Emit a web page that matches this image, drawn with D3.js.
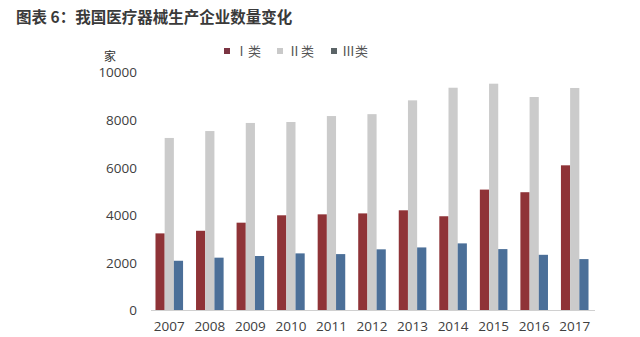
<!DOCTYPE html>
<html lang="zh">
<head>
  <meta charset="UTF-8">
  <title>我国医疗器械生产企业数量变化</title>
  <style>
    body { margin: 0; background: #fff; }
    svg { display: block; font-family: "Noto Sans CJK SC", "Noto Sans", sans-serif; }
    .tick text { fill: #404040; }
  </style>
  <script src="https://d3js.org/d3.v7.min.js"></script>
</head>
<body>
  <div id="chart"></div>
  <script>
    // ---- data ----
    const years = ["2007", "2008", "2009", "2010", "2011", "2012", "2013", "2014", "2015", "2016", "2017"];
    const seriesNames = ["Ⅰ类", "Ⅱ类", "Ⅲ类"];
    const class1 = [3240, 3350, 3690, 4000, 4040, 4080, 4210, 3960, 5080, 4970, 6100];
    const class2 = [7250, 7540, 7880, 7920, 8170, 8250, 8830, 9360, 9530, 8970, 9350];
    const class3 = [2090, 2220, 2290, 2400, 2370, 2570, 2650, 2820, 2580, 2340, 2160];
    const yTicks = [0, 2000, 4000, 6000, 8000, 10000];

    const colors = ["#8f3337", "#cbcbcb", "#4b6f98"];
    const legendColors = ["#7b3442", "#c9c9c9", "#5b6467"];

    const width = 640, height = 337;
    const svg = d3.select("#chart").append("svg")
      .attr("width", width)
      .attr("height", height);

    // title
    svg.append("text")
      .attr("x", 16)
      .attr("y", 23)
      .attr("font-size", 15.5)
      .attr("font-weight", "bold")
      .attr("fill", "#3a3a3a")
      .text("图表 6：我国医疗器械生产企业数量变化");

    // scales
    const x0 = d3.scaleBand()
      .domain(years)
      .range([149, 595])
      .paddingInner(0.32)
      .paddingOuter(0.16);

    const x1 = d3.scaleBand()
      .domain(seriesNames)
      .range([0, x0.bandwidth()]);

    const y = d3.scaleLinear()
      .domain([0, 10000])
      .range([310.5, 72.5]);

    const table = years.map((yr, i) => ({
      year: yr,
      values: [class1[i], class2[i], class3[i]]
    }));

    // bars
    const groups = svg.append("g").selectAll("g")
      .data(table)
      .join("g")
      .attr("transform", d => `translate(${x0(d.year)},0)`);

    groups.selectAll("rect")
      .data(d => d.values.map((v, k) => ({ name: seriesNames[k], value: v, k: k })))
      .join("rect")
      .attr("x", d => x1(d.name))
      .attr("y", d => y(d.value))
      .attr("width", x1.bandwidth())
      .attr("height", d => y(0) - y(d.value))
      .attr("fill", d => colors[d.k]);

    // y axis (labels only)
    const yAxis = svg.append("g")
      .attr("transform", "translate(137,0)")
      .call(d3.axisLeft(y).tickValues(yTicks).tickSize(0).tickPadding(0).tickFormat(d3.format("d")));
    yAxis.select(".domain").remove();
    yAxis.selectAll("text").attr("font-size", 13.5).attr("font-family", "'Open Sans', 'Noto Sans', sans-serif");

    // x axis
    const xAxis = svg.append("g")
      .attr("transform", `translate(0,${y(0)})`)
      .call(d3.axisBottom(x0).tickSize(0).tickPadding(11));
    xAxis.select(".domain").attr("stroke", "#d0d0d0").attr("d", "M151,0H595");
    xAxis.selectAll("text").attr("font-size", 13.5).attr("font-family", "'Open Sans', 'Noto Sans', sans-serif");

    // unit label
    svg.append("text")
      .attr("x", 110)
      .attr("y", 61)
      .attr("text-anchor", "middle")
      .attr("font-size", 12)
      .attr("fill", "#303030")
      .text("家");

    // legend
    const legendX = [224, 277, 331];
    const legend = svg.append("g").selectAll("g")
      .data(seriesNames)
      .join("g")
      .attr("transform", (d, i) => `translate(${legendX[i]},51)`);
    legend.append("rect")
      .attr("x", 0).attr("y", -3)
      .attr("width", 6).attr("height", 6)
      .attr("fill", (d, i) => legendColors[i]);
    legend.append("text")
      .attr("x", 11)
      .attr("y", 5)
      .attr("font-size", 13)
      .attr("fill", "#555")
      .text(d => d);
  </script>
</body>
</html>
